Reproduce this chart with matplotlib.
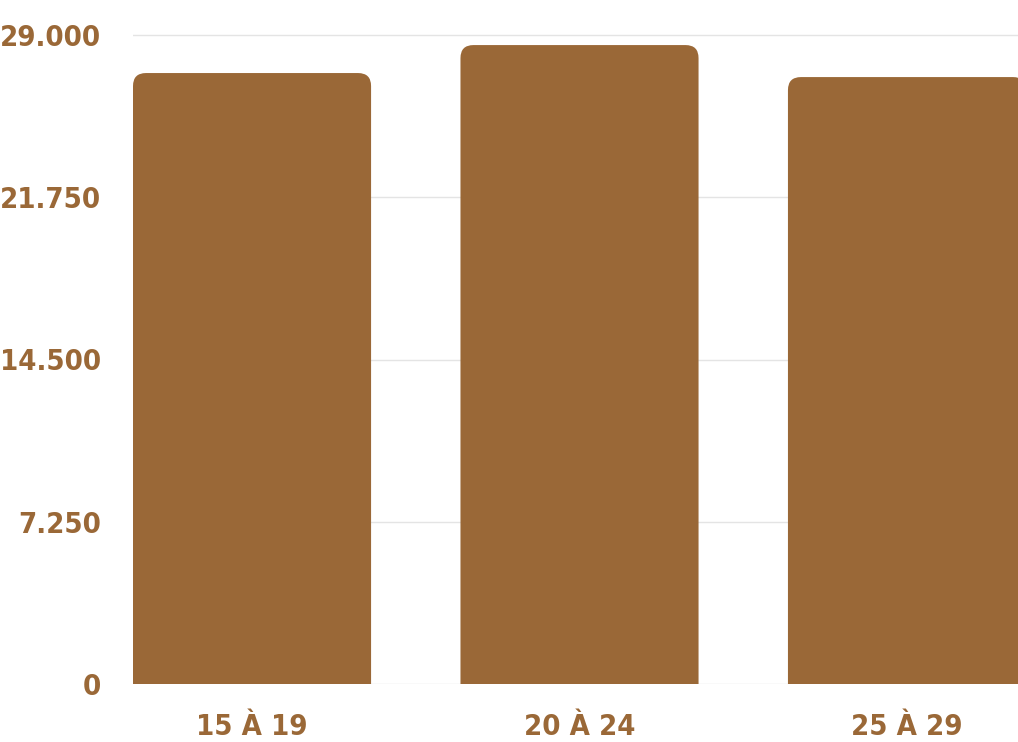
import matplotlib.pyplot as plt
from matplotlib.patches import FancyBboxPatch
from matplotlib.ticker import FuncFormatter

plt.rcParams['font.family'] = ['DejaVu Sans']

# data
categories = ['15 À 19', '20 À 24', '25 À 29']
values = [27300, 28550, 27120]
yticks = [0, 7250, 14500, 21750, 29000]

bar_color = '#9a6837'
text_color = '#9a6837'

fig = plt.figure(figsize=(10.18, 7.42), dpi=100)
W, H = 1018, 742
y0_px, ytop_px = 684, 24
ax = fig.add_axes([133 / W, (H - y0_px) / H, 1 - 133 / W, (y0_px - ytop_px) / H])

x = list(range(len(categories)))
bars = ax.bar(x, values, width=0.727, color=bar_color)
ax.set_xlim(-0.3635, 2.339)
ax.set_ylim(0, 29000 * (y0_px - ytop_px) / 649)

# swap plain bars for ones with rounded top corners
px_per_x = (1 - 133 / W) * W / (2.339 + 0.3635)
px_per_y = 649 / 29000
r_px = 13
for b in bars:
    bx, by = b.get_xy()
    bw, bh = b.get_width(), b.get_height()
    ext = r_px / px_per_y
    p = FancyBboxPatch((bx, by - ext), bw, bh + ext,
                       boxstyle='round,pad=0,rounding_size=%f' % (r_px / px_per_x),
                       mutation_aspect=px_per_x / px_per_y,
                       facecolor=bar_color, edgecolor='none', zorder=2)
    ax.add_patch(p)
    b.remove()

ax.set_yticks(yticks)
ax.yaxis.set_major_formatter(FuncFormatter(lambda v, p: f'{int(v):,}'.replace(',', '.')))
ax.set_xticks(x)
ax.set_xticklabels(categories)

ax.grid(axis='y', color='#e4e4e4', linewidth=1, zorder=0)
ax.set_axisbelow(True)
for s in ax.spines.values():
    s.set_visible(False)
ax.tick_params(length=0)
ax.tick_params(axis='y', pad=23)
ax.tick_params(axis='x', pad=21)
for lab in ax.get_yticklabels() + ax.get_xticklabels():
    lab.set_fontsize(21)
    lab.set_fontweight('bold')
    lab.set_fontstretch('condensed')
    lab.set_color(text_color)

fig.savefig('out.png', dpi=100)
